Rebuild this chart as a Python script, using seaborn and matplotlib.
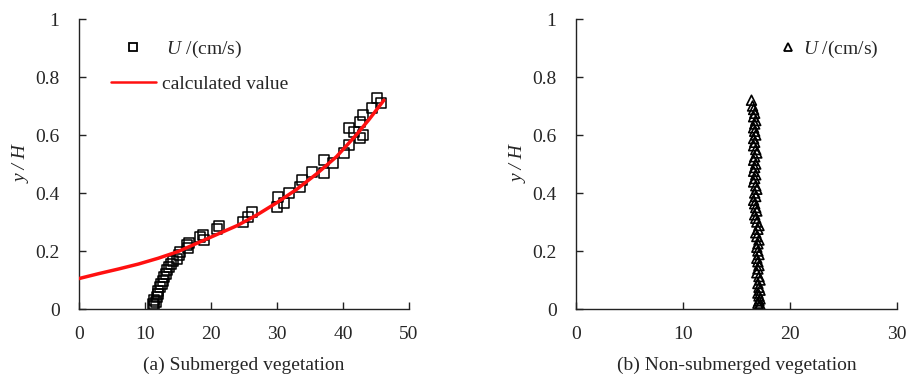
import matplotlib
matplotlib.use("Agg")
import matplotlib.pyplot as plt
import seaborn as sns
import pandas as pd
from matplotlib.lines import Line2D

# ---------------- data ----------------
sub_u = [11.3, 11.2, 11.6, 11.4, 11.8, 11.9, 12.0, 12.3, 12.5, 12.8, 12.9, 13.2, 13.4,
         13.7, 13.9, 14.3, 14.9, 15.1, 15.3, 16.5, 16.3, 16.6, 18.9, 18.4, 18.8, 20.9,
         21.2, 24.9, 25.6, 26.2, 30.0, 31.0, 30.2, 31.8, 33.5, 33.8, 37.1, 35.3, 38.5,
         37.1, 40.1, 40.9, 42.6, 43.1, 41.6, 40.9, 42.6, 43.1, 44.4, 45.7, 45.2]
sub_y = [0.010, 0.017, 0.025, 0.032, 0.040, 0.052, 0.063, 0.075, 0.086, 0.098, 0.110,
         0.121, 0.133, 0.145, 0.156, 0.165, 0.172, 0.186, 0.198, 0.210, 0.221, 0.226,
         0.238, 0.249, 0.255, 0.276, 0.285, 0.300, 0.316, 0.333, 0.353, 0.364, 0.387,
         0.399, 0.422, 0.445, 0.468, 0.473, 0.502, 0.514, 0.537, 0.566, 0.589, 0.600,
         0.611, 0.625, 0.646, 0.669, 0.692, 0.709, 0.727]

calc_u = [0, 3, 6, 9, 12, 15, 18, 21, 24, 27, 30, 33, 36, 39, 42, 44, 46.2]
calc_y = [0.105, 0.122, 0.138, 0.155, 0.175, 0.198, 0.228, 0.258, 0.288, 0.325,
          0.367, 0.413, 0.466, 0.525, 0.600, 0.655, 0.720]

non_y = [0.010, 0.015, 0.020, 0.028, 0.035, 0.045, 0.055, 0.065, 0.075, 0.088,
         0.100, 0.112, 0.125, 0.138, 0.150, 0.163, 0.175, 0.188, 0.200, 0.213,
         0.225, 0.238, 0.250, 0.263, 0.275, 0.288, 0.300, 0.313, 0.325, 0.338,
         0.350, 0.363, 0.375, 0.388, 0.400, 0.413, 0.425, 0.438, 0.450, 0.463,
         0.475, 0.488, 0.500, 0.513, 0.525, 0.538, 0.550, 0.563, 0.575, 0.588,
         0.600, 0.613, 0.625, 0.638, 0.650, 0.663, 0.675, 0.688, 0.700, 0.720]
non_u = [17.1, 17.2, 17.0, 17.1, 17.2, 17.1, 17.0, 17.2, 17.1, 17.0,
         17.2, 17.1, 16.9, 17.0, 17.1, 17.0, 16.9, 17.1, 17.0, 16.9,
         17.0, 17.1, 16.9, 16.8, 17.0, 17.1, 16.9, 16.8, 16.7, 16.9,
         16.8, 16.7, 16.6, 16.8, 16.7, 16.9, 16.8, 16.6, 16.7, 16.8,
         16.6, 16.7, 16.8, 16.6, 16.7, 16.9, 16.8, 16.6, 16.7, 16.6,
         16.8, 16.7, 16.6, 16.7, 16.8, 16.6, 16.7, 16.6, 16.5, 16.4]

left_xticks = [0, 10, 20, 30, 40, 50]
right_xticks = [0, 10, 20, 30]
yticks = [0, 0.2, 0.4, 0.6, 0.8, 1.0]
ytick_labels = ["0", "0.2", "0.4", "0.6", "0.8", "1"]
left_title = "(a) Submerged vegetation"
right_title = "(b) Non-submerged vegetation"
legend_u = r" $U$ /(cm/s)"
legend_calc = "calculated value"

# ---------------- style ----------------
sns.set_theme(style="ticks")
plt.rcParams["font.family"] = ["Liberation Serif", "DejaVu Serif"]
plt.rcParams["mathtext.fontset"] = "custom"
plt.rcParams["mathtext.it"] = "Liberation Serif:italic"
plt.rcParams["mathtext.rm"] = "Liberation Serif"
plt.rcParams["axes.linewidth"] = 1.0
plt.rcParams["axes.edgecolor"] = "#222222"

FS = 14

fig = plt.figure(figsize=(9.10, 3.74), dpi=100)
axL = fig.add_axes([79 / 910, 65 / 374, 330 / 910, 290 / 374])
axR = fig.add_axes([576 / 910, 65 / 374, 321 / 910, 290 / 374])

df_sub = pd.DataFrame({"u": sub_u, "y": sub_y})
df_calc = pd.DataFrame({"u": calc_u, "y": calc_y})
df_non = pd.DataFrame({"u": non_u, "y": non_y})

sns.lineplot(data=df_calc, x="u", y="y", ax=axL, color="#ff1010", lw=2.5,
             sort=False, estimator=None, zorder=3)
sns.scatterplot(data=df_sub, x="u", y="y", ax=axL, marker="s", s=52,
                facecolor="none", edgecolor="black", linewidth=1.1, zorder=2)
sns.scatterplot(data=df_non, x="u", y="y", ax=axR, marker="^", s=50,
                facecolor="none", edgecolor="black", linewidth=1.2, zorder=2)

for ax, xt, xmax, title in [(axL, left_xticks, 50, left_title),
                             (axR, right_xticks, 30, right_title)]:
    ax.set_xlim(0, xmax)
    ax.set_ylim(0, 1)
    ax.set_xticks(xt)
    ax.set_xticklabels([str(v) for v in xt], fontsize=FS)
    ax.set_yticks(yticks)
    ax.set_yticklabels(ytick_labels, fontsize=FS)
    ax.tick_params(direction="in", length=5, width=1.0, color="#222222")
    ax.tick_params(axis="x", pad=12)
    ax.tick_params(axis="y", pad=14)
    for s in ["top", "right"]:
        ax.spines[s].set_visible(False)
    ax.set_xlabel(title, fontsize=FS, labelpad=10)
    ax.set_ylabel("y / H", fontsize=FS, style="italic", labelpad=3)
    ax.set_facecolor("white")

hL = [Line2D([], [], marker="s", ls="none", mfc="none", mec="black", ms=5.5, mew=1.3),
      Line2D([], [], color="#ff1010", lw=1.8)]
legL = axL.legend(hL, [legend_u, legend_calc], loc="upper left",
                  bbox_to_anchor=((111 - 79) / 330, (309 - 39) / 290),
                  frameon=False, fontsize=FS, handlelength=2.3, handletextpad=0.3,
                  labelspacing=0.8, borderpad=0, borderaxespad=0)

hR = [Line2D([], [], marker="^", ls="none", mfc="none", mec="black", ms=5.5, mew=1.3)]
legR = axR.legend(hR, [r"$U$ /(cm/s)"], loc="upper left",
                  bbox_to_anchor=((778 - 576) / 321, (309 - 39) / 290),
                  frameon=False, fontsize=FS, handlelength=1.0, handletextpad=0.3,
                  borderpad=0, borderaxespad=0)

fig.savefig("out.png", dpi=100, facecolor="white")
